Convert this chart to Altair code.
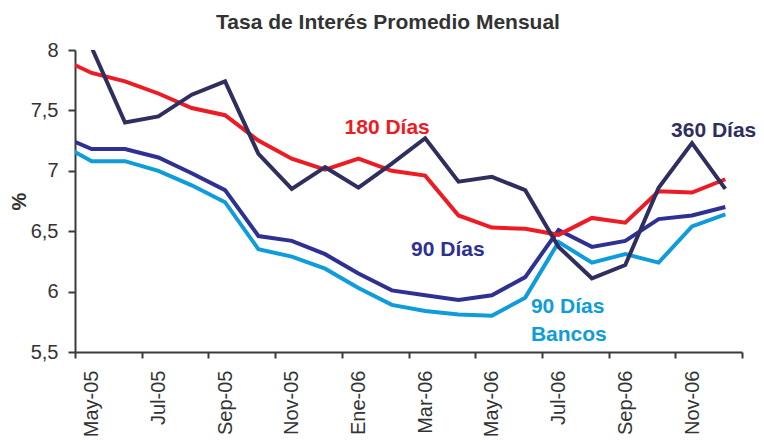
import altair as alt
import pandas as pd

# month index -1 (Abr-05) lies just left of the plot and is clipped
month_idx = list(range(-1, 20))
months = ["Abr-05", "May-05", "Jun-05", "Jul-05", "Ago-05", "Sep-05", "Oct-05", "Nov-05",
          "Dic-05", "Ene-06", "Feb-06", "Mar-06", "Abr-06", "May-06", "Jun-06", "Jul-06",
          "Ago-06", "Sep-06", "Oct-06", "Nov-06", "Dic-06"]

tasa_180 = [7.94, 7.81, 7.74, 7.64, 7.52, 7.46, 7.25, 7.10, 7.01, 7.10, 7.00, 6.96, 6.63,
            6.53, 6.52, 6.47, 6.61, 6.57, 6.83, 6.82, 6.93]
tasa_360 = [8.30, 8.02, 7.40, 7.45, 7.63, 7.74, 7.14, 6.85, 7.03, 6.86, 7.06, 7.27, 6.91,
            6.95, 6.84, 6.37, 6.11, 6.22, 6.86, 7.23, 6.85]
tasa_90 = [7.30, 7.18, 7.18, 7.11, 6.98, 6.84, 6.46, 6.42, 6.31, 6.15, 6.01, 5.97, 5.93,
           5.97, 6.12, 6.51, 6.37, 6.42, 6.60, 6.63, 6.70]
tasa_90b = [7.23, 7.08, 7.08, 7.00, 6.88, 6.74, 6.35, 6.29, 6.19, 6.03, 5.89, 5.84, 5.81,
            5.80, 5.95, 6.41, 6.24, 6.31, 6.24, 6.54, 6.64]

tick_labels = ["May-05", "Jul-05", "Sep-05", "Nov-05", "Ene-06", "Mar-06", "May-06",
               "Jul-06", "Sep-06", "Nov-06"]

titulo = "Tasa de Interés Promedio Mensual"

series_names = ["90 Días Bancos", "90 Días", "180 Días", "360 Días"]
series_values = [tasa_90b, tasa_90, tasa_180, tasa_360]
series_colors = ["#0E9CDA", "#2E3192", "#ED1C24", "#2F2F5F"]

rows = []
for name, vals in zip(series_names, series_values):
    for k, m, v in zip(month_idx, months, vals):
        rows.append({"k": k, "mes": m, "serie": name, "valor": v})
df = pd.DataFrame(rows)

# annotations (text, position in data units)
ann_center = pd.DataFrame({
    "txt": ["180 Días", "90 Días", "360 Días"],
    "k": [8.86, 10.68, 18.65],
    "valor": [7.354, 6.344, 7.33],
    "color": ["#ED1C24", "#2E3192", "#2F2F5F"],
})
ann_left = pd.DataFrame({
    "txt": ["90 Días", "Bancos"],
    "k": [13.17, 13.17],
    "valor": [5.873, 5.64],
    "color": ["#0E9CDA", "#0E9CDA"],
})

label_array = "[" + ",".join('"%s"' % t for t in tick_labels) + "]"
x_ticks = [-0.5 + 2 * i for i in range(11)]

x_enc = alt.X(
    "k:Q",
    scale=alt.Scale(domain=[-0.5, 19.5], nice=False, zero=False),
    axis=alt.Axis(
        values=x_ticks,
        labelExpr=label_array + "[floor((datum.value + 0.5) / 2)] || ''",
        labelOffset=16.7,
        labelAngle=270,
        labelAlign="right",
        labelBaseline="middle",
        labelFontSize=20,
        labelColor="#333333",
        labelPadding=12,
        tickSize=6,
        tickColor="#3a3a3a",
        tickWidth=2,
        domainColor="#3a3a3a",
        domainWidth=2,
        grid=False,
        title=None,
        labelOverlap=False,
    ),
)
y_enc = alt.Y(
    "valor:Q",
    scale=alt.Scale(domain=[5.5, 8], nice=False, zero=False),
    axis=alt.Axis(
        values=[5.5, 6, 6.5, 7, 7.5, 8],
        labelExpr="replace(toString(datum.value), '.', ',')",
        labelFontSize=20,
        labelColor="#333333",
        labelPadding=10,
        tickSize=7,
        tickColor="#3a3a3a",
        tickWidth=2,
        domainColor="#3a3a3a",
        domainWidth=2,
        grid=False,
        title="%",
        titleFontSize=20,
        titleFontWeight="bold",
        titleColor="#333333",
        titleAngle=270,
        titleX=-56,
        titleY=151,
        titleAlign="center",
        titleBaseline="middle",
    ),
)

lines = alt.Chart(df).mark_line(strokeWidth=4, clip=True).encode(
    x=x_enc,
    y=y_enc,
    color=alt.Color("serie:N", scale=alt.Scale(domain=series_names, range=series_colors),
                    legend=None),
    order=alt.Order("k:Q"),
)

txt_c = alt.Chart(ann_center).mark_text(fontSize=21, fontWeight="bold", align="center",
                                        baseline="middle").encode(
    x="k:Q", y="valor:Q", text="txt:N", color=alt.Color("color:N", scale=None))
txt_l = alt.Chart(ann_left).mark_text(fontSize=21, fontWeight="bold", align="left",
                                      baseline="middle").encode(
    x="k:Q", y="valor:Q", text="txt:N", color=alt.Color("color:N", scale=None))

title_mark = alt.Chart(pd.DataFrame({"t": [titulo]})).mark_text(
    fontSize=21, fontWeight="bold", color="#333333", align="center", baseline="alphabetic"
).encode(x=alt.value(313), y=alt.value(-21), text="t:N")

chart = alt.layer(lines, txt_c, txt_l, title_mark).properties(
    width=667,
    height=302,
    autosize=alt.AutoSizeParams(type="none"),
    padding={"left": 67, "top": 42, "right": 14, "bottom": 84},
).configure(font="Liberation Sans").configure_view(stroke=None)

chart.save("out.html", embed_options={"renderer": "svg", "actions": False})
